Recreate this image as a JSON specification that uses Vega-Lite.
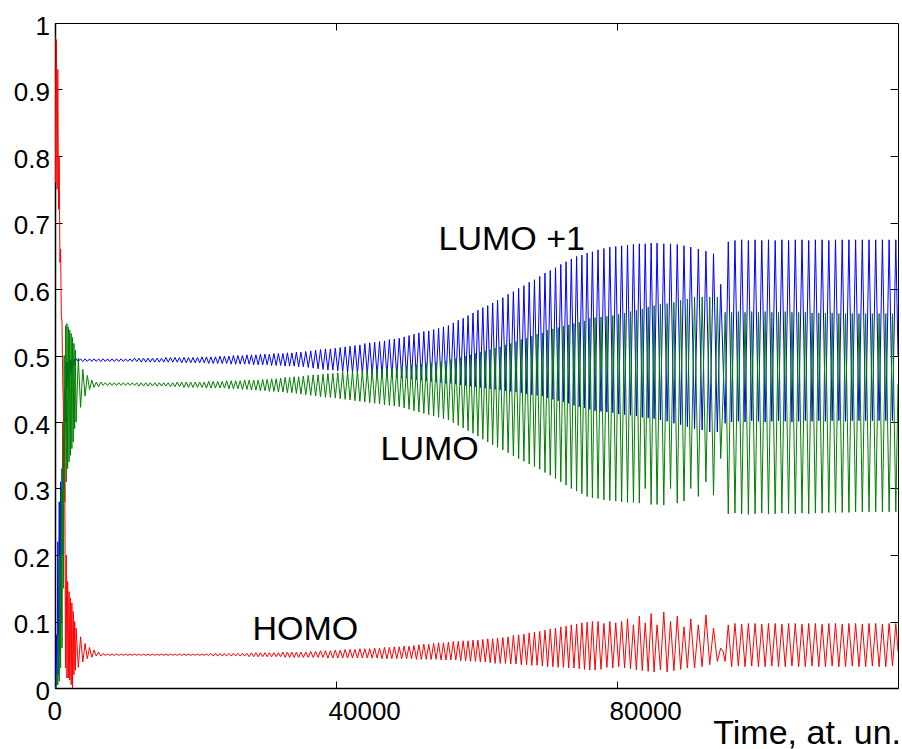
{
"$schema": "https://vega.github.io/schema/vega-lite/v6.json",
"width": 843,
"height": 665,
"autosize": "none",
"padding": {"left": 55, "top": 23, "right": 4, "bottom": 61},
"background": "white",
"config": {"view": {"stroke": "black", "strokeWidth": 1}, "font": "Liberation Sans", "axis": {"grid": false}},
"datasets": {
"labels": [
{"t": 54590, "v": 0.658, "label": "LUMO +1"},
{"t": 46335, "v": 0.3424, "label": "LUMO"},
{"t": 28100, "v": 0.0728, "label": "HOMO"}
],
"pop": [
{"t":0,"b":0,"g":0,"r":0.98},
{"t":100,"b":0,"g":0,"r":0.76},
{"t":200,"b":0.08,"g":0,"r":0.975},
{"t":300,"b":0.005,"g":0.02,"r":0.75},
{"t":400,"b":0.22,"g":0.005,"r":0.93},
{"t":500,"b":0.02,"g":0.08,"r":0.72},
{"t":600,"b":0.28,"g":0.01,"r":0.8},
{"t":700,"b":0.05,"g":0.2,"r":0.64},
{"t":800,"b":0.31,"g":0.03,"r":0.66},
{"t":900,"b":0.1,"g":0.3,"r":0.56},
{"t":1000,"b":0.33,"g":0.06,"r":0.55},
{"t":1100,"b":0.2,"g":0.4,"r":0.46},
{"t":1200,"b":0.38,"g":0.15,"r":0.42},
{"t":1300,"b":0.3,"g":0.5,"r":0.33},
{"t":1400,"b":0.45,"g":0.28,"r":0.29},
{"t":1500,"b":0.4,"g":0.545,"r":0.03},
{"t":1600,"b":0.49,"g":0.31,"r":0.2},
{"t":1700,"b":0.45,"g":0.548,"r":0.015},
{"t":1800,"b":0.49,"g":0.33,"r":0.16},
{"t":1900,"b":0.46,"g":0.543,"r":0.015},
{"t":2000,"b":0.492,"g":0.34,"r":0.145},
{"t":2100,"b":0.47,"g":0.538,"r":0.012},
{"t":2200,"b":0.493,"g":0.35,"r":0.135},
{"t":2300,"b":0.475,"g":0.533,"r":0.005},
{"t":2400,"b":0.494,"g":0.36,"r":0.128},
{"t":2500,"b":0.48,"g":0.527,"r":0},
{"t":2600,"b":0.494,"g":0.37,"r":0.115},
{"t":2700,"b":0.485,"g":0.518,"r":0.02},
{"t":2800,"b":0.495,"g":0.39,"r":0.1},
{"t":2900,"b":0.488,"g":0.508,"r":0.027},
{"t":3000,"b":0.495,"g":0.4,"r":0.09},
{"t":3320,"b":0.491,"g":0.496,"r":0.031},
{"t":3640,"b":0.495,"g":0.422,"r":0.077},
{"t":3960,"b":0.491,"g":0.479,"r":0.039},
{"t":4280,"b":0.495,"g":0.439,"r":0.067},
{"t":4600,"b":0.491,"g":0.47,"r":0.044},
{"t":4920,"b":0.495,"g":0.449,"r":0.061},
{"t":5240,"b":0.491,"g":0.463,"r":0.046},
{"t":5560,"b":0.495,"g":0.452,"r":0.057},
{"t":5880,"b":0.491,"g":0.46,"r":0.048},
{"t":6200,"b":0.495,"g":0.453,"r":0.054},
{"t":6520,"b":0.491,"g":0.46,"r":0.048},
{"t":6840,"b":0.495,"g":0.455,"r":0.052},
{"t":7160,"b":0.491,"g":0.459,"r":0.049},
{"t":7480,"b":0.495,"g":0.455,"r":0.051},
{"t":7800,"b":0.491,"g":0.459,"r":0.049},
{"t":8120,"b":0.495,"g":0.455,"r":0.051},
{"t":8440,"b":0.491,"g":0.459,"r":0.049},
{"t":8760,"b":0.495,"g":0.455,"r":0.051},
{"t":9080,"b":0.491,"g":0.459,"r":0.049},
{"t":9400,"b":0.495,"g":0.455,"r":0.051},
{"t":9720,"b":0.491,"g":0.459,"r":0.049},
{"t":10040,"b":0.495,"g":0.455,"r":0.051},
{"t":10360,"b":0.491,"g":0.459,"r":0.049},
{"t":10680,"b":0.495,"g":0.455,"r":0.051},
{"t":11000,"b":0.491,"g":0.459,"r":0.049},
{"t":11320,"b":0.496,"g":0.455,"r":0.051},
{"t":11640,"b":0.491,"g":0.459,"r":0.049},
{"t":11960,"b":0.496,"g":0.454,"r":0.051},
{"t":12280,"b":0.49,"g":0.459,"r":0.049},
{"t":12600,"b":0.496,"g":0.454,"r":0.051},
{"t":12920,"b":0.49,"g":0.459,"r":0.049},
{"t":13240,"b":0.496,"g":0.454,"r":0.051},
{"t":13560,"b":0.49,"g":0.459,"r":0.049},
{"t":13880,"b":0.496,"g":0.454,"r":0.051},
{"t":14200,"b":0.49,"g":0.459,"r":0.049},
{"t":14520,"b":0.496,"g":0.454,"r":0.051},
{"t":14840,"b":0.49,"g":0.459,"r":0.049},
{"t":15160,"b":0.496,"g":0.454,"r":0.051},
{"t":15480,"b":0.49,"g":0.459,"r":0.049},
{"t":15800,"b":0.497,"g":0.454,"r":0.051},
{"t":16120,"b":0.49,"g":0.459,"r":0.049},
{"t":16440,"b":0.497,"g":0.453,"r":0.051},
{"t":16760,"b":0.49,"g":0.459,"r":0.049},
{"t":17080,"b":0.497,"g":0.453,"r":0.051},
{"t":17400,"b":0.49,"g":0.46,"r":0.049},
{"t":17720,"b":0.497,"g":0.453,"r":0.051},
{"t":18040,"b":0.489,"g":0.46,"r":0.049},
{"t":18360,"b":0.497,"g":0.452,"r":0.051},
{"t":18680,"b":0.489,"g":0.46,"r":0.049},
{"t":19000,"b":0.497,"g":0.452,"r":0.051},
{"t":19320,"b":0.489,"g":0.46,"r":0.049},
{"t":19640,"b":0.497,"g":0.452,"r":0.051},
{"t":19960,"b":0.489,"g":0.46,"r":0.049},
{"t":20280,"b":0.497,"g":0.452,"r":0.051},
{"t":20600,"b":0.489,"g":0.46,"r":0.049},
{"t":20920,"b":0.498,"g":0.452,"r":0.051},
{"t":21240,"b":0.489,"g":0.46,"r":0.049},
{"t":21560,"b":0.498,"g":0.451,"r":0.051},
{"t":21880,"b":0.488,"g":0.461,"r":0.049},
{"t":22200,"b":0.498,"g":0.451,"r":0.052},
{"t":22520,"b":0.488,"g":0.461,"r":0.048},
{"t":22840,"b":0.498,"g":0.451,"r":0.052},
{"t":23160,"b":0.488,"g":0.461,"r":0.048},
{"t":23480,"b":0.499,"g":0.451,"r":0.052},
{"t":23800,"b":0.488,"g":0.461,"r":0.048},
{"t":24120,"b":0.499,"g":0.451,"r":0.052},
{"t":24440,"b":0.488,"g":0.462,"r":0.048},
{"t":24760,"b":0.499,"g":0.45,"r":0.052},
{"t":25080,"b":0.487,"g":0.462,"r":0.048},
{"t":25400,"b":0.5,"g":0.45,"r":0.052},
{"t":25720,"b":0.487,"g":0.462,"r":0.048},
{"t":26040,"b":0.5,"g":0.45,"r":0.052},
{"t":26360,"b":0.487,"g":0.462,"r":0.048},
{"t":26680,"b":0.5,"g":0.449,"r":0.052},
{"t":27000,"b":0.487,"g":0.463,"r":0.048},
{"t":27320,"b":0.501,"g":0.449,"r":0.052},
{"t":27640,"b":0.487,"g":0.463,"r":0.047},
{"t":27960,"b":0.501,"g":0.448,"r":0.053},
{"t":28280,"b":0.486,"g":0.463,"r":0.047},
{"t":28600,"b":0.501,"g":0.448,"r":0.053},
{"t":28920,"b":0.486,"g":0.463,"r":0.047},
{"t":29240,"b":0.502,"g":0.447,"r":0.053},
{"t":29560,"b":0.486,"g":0.464,"r":0.047},
{"t":29880,"b":0.502,"g":0.447,"r":0.053},
{"t":30200,"b":0.486,"g":0.464,"r":0.047},
{"t":30520,"b":0.502,"g":0.446,"r":0.053},
{"t":30840,"b":0.485,"g":0.465,"r":0.047},
{"t":31160,"b":0.503,"g":0.446,"r":0.053},
{"t":31480,"b":0.485,"g":0.465,"r":0.047},
{"t":31800,"b":0.503,"g":0.445,"r":0.053},
{"t":32120,"b":0.485,"g":0.466,"r":0.047},
{"t":32440,"b":0.503,"g":0.445,"r":0.054},
{"t":32760,"b":0.484,"g":0.467,"r":0.046},
{"t":33080,"b":0.504,"g":0.444,"r":0.054},
{"t":33400,"b":0.484,"g":0.467,"r":0.046},
{"t":33720,"b":0.504,"g":0.444,"r":0.054},
{"t":34040,"b":0.484,"g":0.468,"r":0.046},
{"t":34360,"b":0.505,"g":0.443,"r":0.054},
{"t":34680,"b":0.483,"g":0.468,"r":0.046},
{"t":35000,"b":0.505,"g":0.442,"r":0.054},
{"t":35350,"b":0.483,"g":0.469,"r":0.046},
{"t":35700,"b":0.506,"g":0.441,"r":0.054},
{"t":36050,"b":0.482,"g":0.47,"r":0.046},
{"t":36400,"b":0.507,"g":0.44,"r":0.055},
{"t":36750,"b":0.481,"g":0.471,"r":0.046},
{"t":37100,"b":0.508,"g":0.439,"r":0.055},
{"t":37450,"b":0.48,"g":0.471,"r":0.046},
{"t":37800,"b":0.509,"g":0.438,"r":0.056},
{"t":38150,"b":0.479,"g":0.472,"r":0.046},
{"t":38500,"b":0.51,"g":0.437,"r":0.056},
{"t":38850,"b":0.478,"g":0.473,"r":0.045},
{"t":39200,"b":0.51,"g":0.437,"r":0.056},
{"t":39550,"b":0.478,"g":0.473,"r":0.045},
{"t":39900,"b":0.511,"g":0.436,"r":0.057},
{"t":40250,"b":0.477,"g":0.474,"r":0.045},
{"t":40600,"b":0.512,"g":0.435,"r":0.057},
{"t":40950,"b":0.476,"g":0.475,"r":0.045},
{"t":41300,"b":0.513,"g":0.434,"r":0.058},
{"t":41650,"b":0.475,"g":0.475,"r":0.045},
{"t":42000,"b":0.514,"g":0.433,"r":0.058},
{"t":42350,"b":0.474,"g":0.476,"r":0.045},
{"t":42700,"b":0.515,"g":0.432,"r":0.058},
{"t":43050,"b":0.473,"g":0.477,"r":0.045},
{"t":43400,"b":0.516,"g":0.431,"r":0.059},
{"t":43750,"b":0.473,"g":0.477,"r":0.045},
{"t":44100,"b":0.518,"g":0.43,"r":0.059},
{"t":44450,"b":0.472,"g":0.478,"r":0.045},
{"t":44800,"b":0.519,"g":0.429,"r":0.059},
{"t":45150,"b":0.471,"g":0.479,"r":0.045},
{"t":45500,"b":0.52,"g":0.428,"r":0.06},
{"t":45850,"b":0.47,"g":0.479,"r":0.045},
{"t":46200,"b":0.521,"g":0.427,"r":0.06},
{"t":46550,"b":0.47,"g":0.48,"r":0.044},
{"t":46900,"b":0.522,"g":0.426,"r":0.061},
{"t":47250,"b":0.469,"g":0.481,"r":0.044},
{"t":47600,"b":0.524,"g":0.425,"r":0.061},
{"t":47950,"b":0.468,"g":0.482,"r":0.044},
{"t":48300,"b":0.525,"g":0.424,"r":0.062},
{"t":48650,"b":0.467,"g":0.482,"r":0.044},
{"t":49000,"b":0.526,"g":0.423,"r":0.062},
{"t":49350,"b":0.466,"g":0.483,"r":0.044},
{"t":49700,"b":0.528,"g":0.421,"r":0.063},
{"t":50050,"b":0.466,"g":0.484,"r":0.044},
{"t":50400,"b":0.53,"g":0.419,"r":0.063},
{"t":50750,"b":0.465,"g":0.485,"r":0.044},
{"t":51100,"b":0.532,"g":0.417,"r":0.064},
{"t":51450,"b":0.464,"g":0.486,"r":0.043},
{"t":51800,"b":0.534,"g":0.415,"r":0.065},
{"t":52150,"b":0.463,"g":0.487,"r":0.043},
{"t":52500,"b":0.536,"g":0.413,"r":0.066},
{"t":52850,"b":0.462,"g":0.488,"r":0.043},
{"t":53200,"b":0.537,"g":0.411,"r":0.066},
{"t":53550,"b":0.461,"g":0.489,"r":0.043},
{"t":53900,"b":0.539,"g":0.409,"r":0.067},
{"t":54250,"b":0.46,"g":0.49,"r":0.043},
{"t":54600,"b":0.541,"g":0.407,"r":0.068},
{"t":54950,"b":0.459,"g":0.491,"r":0.042},
{"t":55300,"b":0.543,"g":0.405,"r":0.068},
{"t":55650,"b":0.458,"g":0.492,"r":0.042},
{"t":56000,"b":0.545,"g":0.403,"r":0.069},
{"t":56350,"b":0.458,"g":0.494,"r":0.042},
{"t":56700,"b":0.549,"g":0.399,"r":0.07},
{"t":57050,"b":0.457,"g":0.495,"r":0.042},
{"t":57400,"b":0.553,"g":0.395,"r":0.07},
{"t":57750,"b":0.456,"g":0.497,"r":0.041},
{"t":58100,"b":0.556,"g":0.391,"r":0.071},
{"t":58450,"b":0.455,"g":0.499,"r":0.041},
{"t":58800,"b":0.56,"g":0.387,"r":0.071},
{"t":59150,"b":0.454,"g":0.501,"r":0.04},
{"t":59500,"b":0.564,"g":0.383,"r":0.072},
{"t":59850,"b":0.453,"g":0.503,"r":0.04},
{"t":60200,"b":0.568,"g":0.379,"r":0.072},
{"t":60550,"b":0.452,"g":0.505,"r":0.039},
{"t":60900,"b":0.572,"g":0.374,"r":0.073},
{"t":61250,"b":0.451,"g":0.507,"r":0.039},
{"t":61600,"b":0.575,"g":0.37,"r":0.074},
{"t":61950,"b":0.45,"g":0.509,"r":0.038},
{"t":62300,"b":0.579,"g":0.366,"r":0.074},
{"t":62650,"b":0.449,"g":0.511,"r":0.037},
{"t":63000,"b":0.583,"g":0.362,"r":0.075},
{"t":63375,"b":0.448,"g":0.513,"r":0.037},
{"t":63750,"b":0.587,"g":0.358,"r":0.076},
{"t":64125,"b":0.447,"g":0.516,"r":0.037},
{"t":64500,"b":0.592,"g":0.354,"r":0.077},
{"t":64875,"b":0.446,"g":0.518,"r":0.036},
{"t":65250,"b":0.596,"g":0.349,"r":0.079},
{"t":65625,"b":0.445,"g":0.521,"r":0.036},
{"t":66000,"b":0.601,"g":0.345,"r":0.08},
{"t":66375,"b":0.444,"g":0.524,"r":0.035},
{"t":66750,"b":0.605,"g":0.341,"r":0.081},
{"t":67125,"b":0.442,"g":0.526,"r":0.035},
{"t":67500,"b":0.61,"g":0.337,"r":0.083},
{"t":67875,"b":0.441,"g":0.529,"r":0.034},
{"t":68250,"b":0.614,"g":0.333,"r":0.084},
{"t":68625,"b":0.44,"g":0.532,"r":0.034},
{"t":69000,"b":0.619,"g":0.329,"r":0.085},
{"t":69375,"b":0.439,"g":0.534,"r":0.033},
{"t":69750,"b":0.624,"g":0.324,"r":0.087},
{"t":70125,"b":0.436,"g":0.538,"r":0.032},
{"t":70500,"b":0.628,"g":0.32,"r":0.089},
{"t":70875,"b":0.434,"g":0.54,"r":0.032},
{"t":71250,"b":0.632,"g":0.315,"r":0.09},
{"t":71625,"b":0.432,"g":0.542,"r":0.031},
{"t":72000,"b":0.637,"g":0.31,"r":0.092},
{"t":72375,"b":0.43,"g":0.544,"r":0.031},
{"t":72750,"b":0.641,"g":0.305,"r":0.093},
{"t":73125,"b":0.428,"g":0.546,"r":0.03},
{"t":73500,"b":0.645,"g":0.3,"r":0.095},
{"t":73875,"b":0.425,"g":0.548,"r":0.03},
{"t":74250,"b":0.649,"g":0.296,"r":0.096},
{"t":74625,"b":0.423,"g":0.55,"r":0.029},
{"t":75000,"b":0.651,"g":0.292,"r":0.098},
{"t":75375,"b":0.421,"g":0.552,"r":0.028},
{"t":75750,"b":0.654,"g":0.288,"r":0.099},
{"t":76125,"b":0.419,"g":0.556,"r":0.027},
{"t":76500,"b":0.656,"g":0.286,"r":0.1},
{"t":76875,"b":0.417,"g":0.557,"r":0.027},
{"t":77300,"b":0.659,"g":0.285,"r":0.1},
{"t":77720,"b":0.416,"g":0.558,"r":0.028},
{"t":78140,"b":0.661,"g":0.283,"r":0.097},
{"t":78560,"b":0.415,"g":0.559,"r":0.031},
{"t":78980,"b":0.663,"g":0.282,"r":0.1},
{"t":79400,"b":0.414,"g":0.56,"r":0.03},
{"t":79820,"b":0.664,"g":0.281,"r":0.098},
{"t":80240,"b":0.412,"g":0.562,"r":0.032},
{"t":80660,"b":0.665,"g":0.28,"r":0.1},
{"t":81080,"b":0.411,"g":0.564,"r":0.03},
{"t":81500,"b":0.666,"g":0.279,"r":0.104},
{"t":81920,"b":0.41,"g":0.566,"r":0.029},
{"t":82340,"b":0.667,"g":0.279,"r":0.095},
{"t":82760,"b":0.409,"g":0.568,"r":0.027},
{"t":83180,"b":0.668,"g":0.278,"r":0.108},
{"t":83600,"b":0.407,"g":0.57,"r":0.026},
{"t":84020,"b":0.668,"g":0.3,"r":0.098},
{"t":84440,"b":0.406,"g":0.573,"r":0.025},
{"t":84860,"b":0.669,"g":0.276,"r":0.112},
{"t":85280,"b":0.405,"g":0.575,"r":0.024},
{"t":85700,"b":0.669,"g":0.276,"r":0.095},
{"t":86180,"b":0.403,"g":0.577,"r":0.027},
{"t":86660,"b":0.668,"g":0.275,"r":0.114},
{"t":87140,"b":0.401,"g":0.578,"r":0.024},
{"t":87620,"b":0.668,"g":0.3,"r":0.1},
{"t":88100,"b":0.398,"g":0.58,"r":0.026},
{"t":88580,"b":0.667,"g":0.278,"r":0.108},
{"t":89060,"b":0.396,"g":0.583,"r":0.028},
{"t":89540,"b":0.665,"g":0.281,"r":0.092},
{"t":90020,"b":0.393,"g":0.585,"r":0.03},
{"t":90500,"b":0.663,"g":0.3,"r":0.104},
{"t":91040,"b":0.39,"g":0.588,"r":0.03},
{"t":91580,"b":0.66,"g":0.288,"r":0.095},
{"t":92120,"b":0.388,"g":0.588,"r":0.032},
{"t":92660,"b":0.657,"g":0.31,"r":0.11},
{"t":93200,"b":0.385,"g":0.588,"r":0.035},
{"t":93740,"b":0.653,"g":0.29,"r":0.09},
{"t":94280,"b":0.385,"g":0.588,"r":0.04},
{"t":94760,"b":0.607,"g":0.345,"r":0.06},
{"t":95100,"b":0.49,"g":0.44,"r":0.055},
{"t":95400,"b":0.398,"g":0.565,"r":0.04},
{"t":95840,"b":0.671,"g":0.262,"r":0.095},
{"t":96317,"b":0.4,"g":0.565,"r":0.032},
{"t":96794,"b":0.673,"g":0.263,"r":0.097},
{"t":97271,"b":0.401,"g":0.566,"r":0.033},
{"t":97748,"b":0.674,"g":0.262,"r":0.096},
{"t":98225,"b":0.4,"g":0.565,"r":0.032},
{"t":98702,"b":0.673,"g":0.261,"r":0.097},
{"t":99179,"b":0.402,"g":0.566,"r":0.033},
{"t":99656,"b":0.674,"g":0.262,"r":0.097},
{"t":100133,"b":0.401,"g":0.565,"r":0.032},
{"t":100610,"b":0.673,"g":0.263,"r":0.096},
{"t":101087,"b":0.4,"g":0.566,"r":0.032},
{"t":101564,"b":0.674,"g":0.262,"r":0.097},
{"t":102041,"b":0.401,"g":0.565,"r":0.033},
{"t":102518,"b":0.673,"g":0.262,"r":0.097},
{"t":102995,"b":0.402,"g":0.565,"r":0.032},
{"t":103472,"b":0.674,"g":0.263,"r":0.096},
{"t":103949,"b":0.401,"g":0.566,"r":0.032},
{"t":104426,"b":0.673,"g":0.262,"r":0.097},
{"t":104903,"b":0.4,"g":0.565,"r":0.033},
{"t":105380,"b":0.674,"g":0.262,"r":0.097},
{"t":105857,"b":0.401,"g":0.565,"r":0.032},
{"t":106334,"b":0.674,"g":0.263,"r":0.096},
{"t":106811,"b":0.402,"g":0.565,"r":0.032},
{"t":107288,"b":0.673,"g":0.262,"r":0.097},
{"t":107765,"b":0.401,"g":0.564,"r":0.033},
{"t":108242,"b":0.674,"g":0.263,"r":0.097},
{"t":108719,"b":0.402,"g":0.564,"r":0.032},
{"t":109196,"b":0.674,"g":0.263,"r":0.096},
{"t":109673,"b":0.401,"g":0.564,"r":0.032},
{"t":110150,"b":0.673,"g":0.264,"r":0.097},
{"t":110627,"b":0.402,"g":0.564,"r":0.033},
{"t":111104,"b":0.674,"g":0.264,"r":0.097},
{"t":111581,"b":0.402,"g":0.563,"r":0.032},
{"t":112058,"b":0.674,"g":0.264,"r":0.096},
{"t":112535,"b":0.401,"g":0.563,"r":0.032},
{"t":113012,"b":0.674,"g":0.264,"r":0.097},
{"t":113489,"b":0.402,"g":0.563,"r":0.033},
{"t":113966,"b":0.674,"g":0.265,"r":0.097},
{"t":114443,"b":0.402,"g":0.563,"r":0.032},
{"t":114920,"b":0.674,"g":0.265,"r":0.096},
{"t":115397,"b":0.402,"g":0.563,"r":0.032},
{"t":115874,"b":0.674,"g":0.265,"r":0.097},
{"t":116351,"b":0.402,"g":0.563,"r":0.033},
{"t":116828,"b":0.674,"g":0.265,"r":0.097},
{"t":117305,"b":0.402,"g":0.563,"r":0.032},
{"t":117782,"b":0.674,"g":0.265,"r":0.096},
{"t":118259,"b":0.402,"g":0.563,"r":0.032},
{"t":118736,"b":0.674,"g":0.265,"r":0.097},
{"t":119213,"b":0.402,"g":0.563,"r":0.033},
{"t":119690,"b":0.674,"g":0.265,"r":0.097},
{"t":120000,"b":0.5,"g":0.457,"r":0.055}
]
},
"layer": [
{
"data": {"name": "pop"},
"layer": [
{"mark": {"type": "line", "color": "#0000ff", "strokeWidth": 1, "clip": true},
 "encoding": {
  "x": {"field": "t", "type": "quantitative", "scale": {"domain": [0, 120000], "nice": false, "zero": false},
   "axis": {"orient": "bottom", "values": [0, 40000, 80000], "format": "d", "title": "Time, at. un.", "titleFont": "Liberation Sans", "titleFontSize": 34, "titleFontWeight": "normal", "titleColor": "black", "titleAlign": "right", "titleBaseline": "alphabetic", "titleX": 845.5, "titleY": 55, "labelFont": "Liberation Sans", "labelFontSize": 26, "labelColor": "black", "labelAlign": "left", "labelOffset": -8, "labelBaseline": "top", "labelPadding": 17, "labelFlush": false, "labelOverlap": false, "tickSize": -7, "tickColor": "black", "tickWidth": 1, "domainColor": "black", "domainWidth": 1.5, "grid": false}},
  "y": {"field": "b", "type": "quantitative", "scale": {"domain": [0, 1], "nice": false},
   "axis": {"orient": "left", "values": [0, 0.1, 0.2, 0.3, 0.4, 0.5, 0.6, 0.7, 0.8, 0.9, 1], "format": "~g", "title": null, "labelFont": "Liberation Sans", "labelFontSize": 26, "labelColor": "black", "labelAlign": "right", "labelBaseline": "middle", "labelOffset": 3, "labelPadding": 12.5, "labelFlush": false, "labelOverlap": false, "tickSize": -7, "tickColor": "black", "tickWidth": 1, "domainColor": "black", "domainWidth": 1.5, "grid": false}}
 }},
{"mark": {"type": "line", "color": "#008000", "strokeWidth": 1, "clip": true},
 "encoding": {
  "x": {"field": "t", "type": "quantitative", "scale": {"domain": [0, 120000], "nice": false, "zero": false},
   "axis": {"orient": "bottom", "values": [0, 40000, 80000], "format": "d", "title": "Time, at. un.", "titleFont": "Liberation Sans", "titleFontSize": 34, "titleFontWeight": "normal", "titleColor": "black", "titleAlign": "right", "titleBaseline": "alphabetic", "titleX": 845.5, "titleY": 55, "labelFont": "Liberation Sans", "labelFontSize": 26, "labelColor": "black", "labelAlign": "left", "labelOffset": -8, "labelBaseline": "top", "labelPadding": 17, "labelFlush": false, "labelOverlap": false, "tickSize": -7, "tickColor": "black", "tickWidth": 1, "domainColor": "black", "domainWidth": 1.5, "grid": false}},
  "y": {"field": "g", "type": "quantitative", "scale": {"domain": [0, 1], "nice": false},
   "axis": {"orient": "left", "values": [0, 0.1, 0.2, 0.3, 0.4, 0.5, 0.6, 0.7, 0.8, 0.9, 1], "format": "~g", "title": null, "labelFont": "Liberation Sans", "labelFontSize": 26, "labelColor": "black", "labelAlign": "right", "labelBaseline": "middle", "labelOffset": 3, "labelPadding": 12.5, "labelFlush": false, "labelOverlap": false, "tickSize": -7, "tickColor": "black", "tickWidth": 1, "domainColor": "black", "domainWidth": 1.5, "grid": false}}
 }},
{"mark": {"type": "line", "color": "#ff0000", "strokeWidth": 1, "clip": true},
 "encoding": {
  "x": {"field": "t", "type": "quantitative", "scale": {"domain": [0, 120000], "nice": false, "zero": false},
   "axis": {"orient": "bottom", "values": [0, 40000, 80000], "format": "d", "title": "Time, at. un.", "titleFont": "Liberation Sans", "titleFontSize": 34, "titleFontWeight": "normal", "titleColor": "black", "titleAlign": "right", "titleBaseline": "alphabetic", "titleX": 845.5, "titleY": 55, "labelFont": "Liberation Sans", "labelFontSize": 26, "labelColor": "black", "labelAlign": "left", "labelOffset": -8, "labelBaseline": "top", "labelPadding": 17, "labelFlush": false, "labelOverlap": false, "tickSize": -7, "tickColor": "black", "tickWidth": 1, "domainColor": "black", "domainWidth": 1.5, "grid": false}},
  "y": {"field": "r", "type": "quantitative", "scale": {"domain": [0, 1], "nice": false},
   "axis": {"orient": "left", "values": [0, 0.1, 0.2, 0.3, 0.4, 0.5, 0.6, 0.7, 0.8, 0.9, 1], "format": "~g", "title": null, "labelFont": "Liberation Sans", "labelFontSize": 26, "labelColor": "black", "labelAlign": "right", "labelBaseline": "middle", "labelOffset": 3, "labelPadding": 12.5, "labelFlush": false, "labelOverlap": false, "tickSize": -7, "tickColor": "black", "tickWidth": 1, "domainColor": "black", "domainWidth": 1.5, "grid": false}}
 }}
]
},
{
"data": {"name": "labels"},
"mark": {"type": "text", "align": "left", "baseline": "alphabetic", "font": "Liberation Sans", "fontSize": 34, "color": "black"},
"encoding": {
 "x": {"field": "t", "type": "quantitative", "scale": {"domain": [0, 120000], "nice": false, "zero": false},
  "axis": {"orient": "top", "values": [40000, 80000], "labels": false, "domain": false, "title": null, "tickSize": -7, "tickColor": "black", "tickWidth": 1, "grid": false}},
 "y": {"field": "v", "type": "quantitative", "scale": {"domain": [0, 1], "nice": false},
  "axis": {"orient": "right", "values": [0.1, 0.2, 0.3, 0.4, 0.5, 0.6, 0.7, 0.8, 0.9], "labels": false, "domain": false, "title": null, "tickSize": -8, "tickColor": "black", "tickWidth": 1, "grid": false}},
 "text": {"field": "label"}
}
}
],
"resolve": {"axis": {"x": "independent", "y": "independent"}}
}
